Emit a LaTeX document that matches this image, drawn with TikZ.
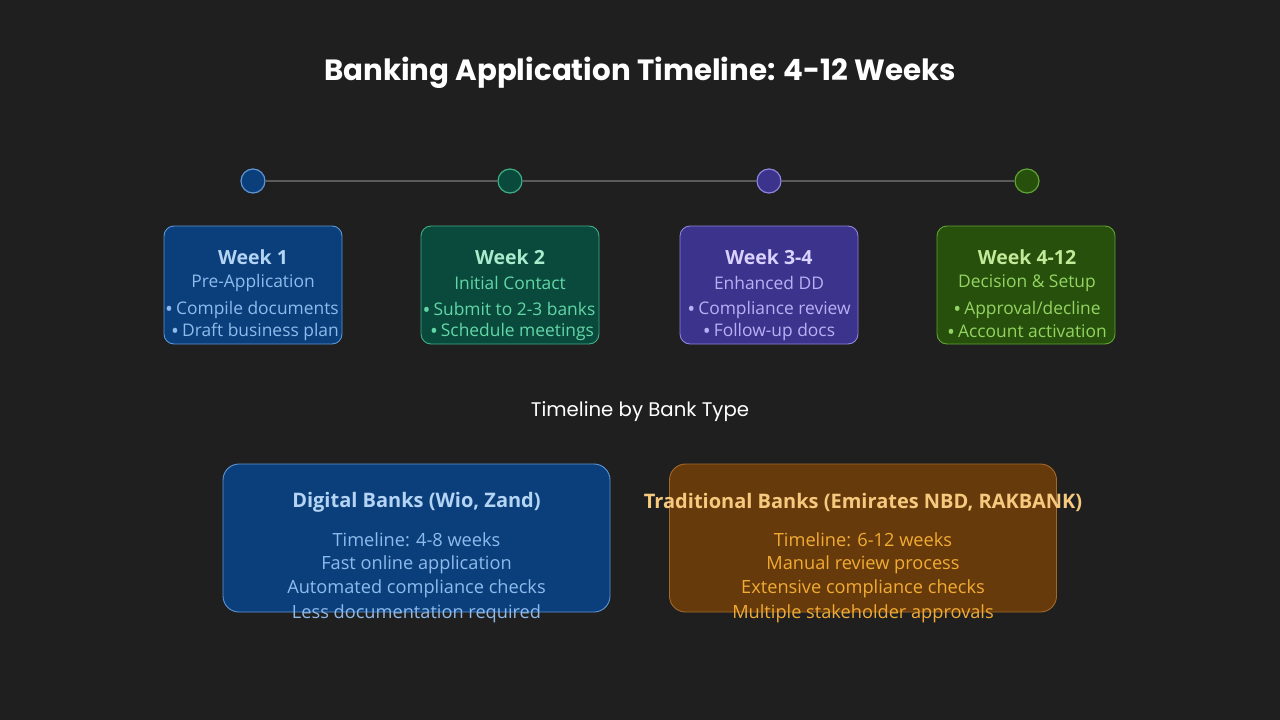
\documentclass[tikz,border=0pt]{standalone}
\usepackage{fontspec}
\setmainfont{Open Sans}
\newfontfamily\popfont{Poppins}
\usetikzlibrary{positioning}
\definecolor{bg}{HTML}{1F1F1F}
\definecolor{lineg}{HTML}{5A5A5A}
\definecolor{bAfill}{HTML}{0B3F7C}\definecolor{bAdraw}{HTML}{5E95D6}\definecolor{bAtit}{HTML}{B4D4F4}\definecolor{bAtxt}{HTML}{8DBBEB}
\definecolor{bBfill}{HTML}{0A4A3C}\definecolor{bBdraw}{HTML}{3FAF86}\definecolor{bBtit}{HTML}{A6ECCD}\definecolor{bBtxt}{HTML}{62D6A6}
\definecolor{bCfill}{HTML}{3C338C}\definecolor{bCdraw}{HTML}{8E84DE}\definecolor{bCtit}{HTML}{D8D2FF}\definecolor{bCtxt}{HTML}{B8B0F4}
\definecolor{bDfill}{HTML}{26500B}\definecolor{bDdraw}{HTML}{5FA532}\definecolor{bDtit}{HTML}{C2EA98}\definecolor{bDtxt}{HTML}{94D462}
\definecolor{bEfill}{HTML}{663A0A}\definecolor{bEdraw}{HTML}{A2692A}\definecolor{bEtit}{HTML}{F6C97E}\definecolor{bEtxt}{HTML}{F2AB34}
\newcommand{\bul}{\raisebox{-1.6pt}{\fontsize{21}{20}\selectfont•}\hspace{3pt}}
\tikzset{
  dot/.style={circle,minimum size=24pt,inner sep=0pt,line width=1.2pt},
  weekbox/.style={rounded corners=10pt,minimum width=178pt,minimum height=118pt,inner sep=0pt,line width=0.9pt},
  bankbox/.style={rounded corners=16pt,minimum width=387pt,minimum height=148pt,inner sep=0pt,line width=0.9pt},
  wtitle/.style={font=\fontsize{19.5}{24}\selectfont\bfseries,inner sep=0pt,anchor=center},
  wtxt/.style={font=\fontsize{17.4}{20}\selectfont,inner sep=0pt,anchor=center},
  btitle/.style={font=\fontsize{20}{24}\selectfont\bfseries,inner sep=0pt,anchor=center},
  btxt/.style={font=\fontsize{18.2}{20}\selectfont,inner sep=0pt,anchor=center},
}
\begin{document}
\begin{tikzpicture}[x=1pt,y=-1pt]
\fill[bg] (0,0) rectangle (1280,720);
\useasboundingbox (0,0) rectangle (1280,720);
\node[font=\popfont\fontsize{29.3}{34}\selectfont\bfseries,text=white,inner sep=0pt] (title) at (640,73) {Banking Application Timeline: 4-12 Weeks};
% timeline dots
\node[dot,fill=bAfill,draw=bAdraw] (c1) at (253,181) {};
\node[dot,fill=bBfill,draw=bBdraw] (c2) at (510,181) {};
\node[dot,fill=bCfill,draw=bCdraw] (c3) at (769,181) {};
\node[dot,fill=bDfill,draw=bDdraw] (c4) at (1027,181) {};
\draw[lineg,line width=2.5pt] (c1) -- (c2);
\draw[lineg,line width=2.5pt] (c2) -- (c3);
\draw[lineg,line width=2.5pt] (c3) -- (c4);
% week boxes
\node[weekbox,fill=bAfill,draw=bAdraw] (w1) at (253,285) {};
\node[weekbox,fill=bBfill,draw=bBdraw] (w2) at (510,285) {};
\node[weekbox,fill=bCfill,draw=bCdraw] (w3) at (769,285) {};
\node[weekbox,fill=bDfill,draw=bDdraw] (w4) at (1026,285) {};
% week 1
\node[wtitle,text=bAtit] (w1t) at (253,257) {Week 1};
\node[wtxt,text=bAtxt] (w1s) at (253,283) {Pre-Application};
\node[wtxt,text=bAtxt] (w1a) at (252,310) {\bul Compile documents};
\node[wtxt,text=bAtxt] (w1b) at (255,332) {\bul Draft business plan};
% week 2
\node[wtitle,text=bBtit] (w2t) at (510,257) {Week 2};
\node[wtxt,text=bBtxt] (w2s) at (510,283) {Initial Contact};
\node[wtxt,text=bBtxt] (w2a) at (509,310) {\bul Submit to 2-3 banks};
\node[wtxt,text=bBtxt] (w2b) at (512,332) {\bul Schedule meetings};
% week 3-4
\node[wtitle,text=bCtit] (w3t) at (769,257) {Week 3-4};
\node[wtxt,text=bCtxt] (w3s) at (769,283) {Enhanced DD};
\node[wtxt,text=bCtxt] (w3a) at (769,310) {\bul Compliance review};
\node[wtxt,text=bCtxt] (w3b) at (769,332) {\bul Follow-up docs};
% week 4-12
\node[wtitle,text=bDtit] (w4t) at (1027,257) {Week 4-12};
\node[wtxt,text=bDtxt] (w4s) at (1027,283) {Decision \& Setup};
\node[wtxt,text=bDtxt] (w4a) at (1027,310) {\bul Approval/decline};
\node[wtxt,text=bDtxt] (w4b) at (1027,332) {\bul Account activation};
% subtitle
\node[font=\popfont\fontsize{19.7}{23}\selectfont,text=white,inner sep=0pt] (sub) at (640,412) {Timeline by Bank Type};
% bank boxes
\node[bankbox,fill=bAfill,draw=bAdraw] (dig) at (416.5,538) {};
\node[bankbox,fill=bEfill,draw=bEdraw] (tra) at (863,538) {};
\node[btitle,text=bAtit] (digt) at (416.5,502) {Digital Banks (Wio, Zand)};
\node[btxt,text=bAtxt] (dig1) at (416.5,540) {Timeline: 4-8 weeks};
\node[btxt,text=bAtxt] (dig2) at (416.5,565) {Fast online application};
\node[btxt,text=bAtxt] (dig3) at (416.5,589) {Automated compliance checks};
\node[btxt,text=bAtxt] (dig4) at (416.5,614) {Less documentation required};
\node[btitle,text=bEtit] (trat) at (863,502) {Traditional Banks (Emirates NBD, RAKBANK)};
\node[btxt,text=bEtxt] (tra1) at (863,540) {Timeline: 6-12 weeks};
\node[btxt,text=bEtxt] (tra2) at (863,565) {Manual review process};
\node[btxt,text=bEtxt] (tra3) at (863,589) {Extensive compliance checks};
\node[btxt,text=bEtxt] (tra4) at (863,614) {Multiple stakeholder approvals};
\end{tikzpicture}
\end{document}
